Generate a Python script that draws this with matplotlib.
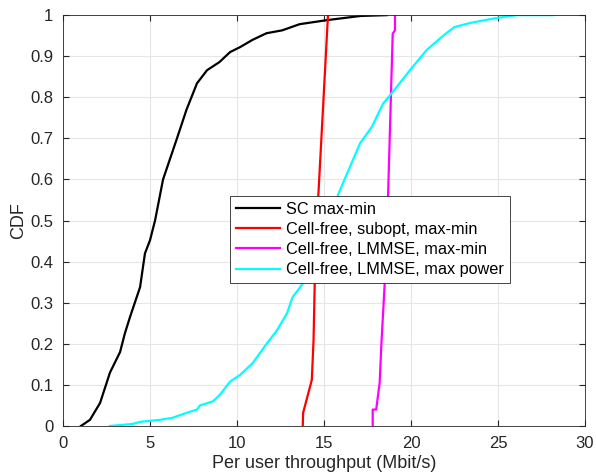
import matplotlib
matplotlib.use("Agg")
import matplotlib.pyplot as plt

plt.rcParams['font.family'] = ['Liberation Sans', 'DejaVu Sans']

# CDF curves (throughput in Mbit/s, cumulative prob.)
sc_x = [1.03, 1.55, 2.13, 2.7, 3.28, 3.56, 3.85, 4.43, 4.71, 5.0, 5.29, 5.75, 6.55,
        7.1, 7.7, 8.28, 9.0, 9.6, 10.17, 10.9, 11.7, 12.6, 13.6, 15.2, 17.1, 18.6]
sc_y = [0.0, 0.015, 0.056, 0.13, 0.18, 0.226, 0.265, 0.338, 0.42, 0.452, 0.5, 0.6, 0.7,
        0.77, 0.834, 0.866, 0.886, 0.91, 0.922, 0.94, 0.956, 0.963, 0.978, 0.988, 0.998, 1.0]

subopt_x = [13.78, 13.8, 14.3, 14.4, 14.48, 14.67, 15.23]
subopt_y = [0.0, 0.032, 0.112, 0.209, 0.372, 0.557, 1.0]

lmmse_x = [17.8, 17.8, 18.0, 18.2, 18.3, 18.5, 18.68, 18.95, 19.08, 19.08]
lmmse_y = [0.0, 0.04, 0.04, 0.105, 0.2, 0.355, 0.557, 0.955, 0.963, 1.0]

maxp_x = [2.7, 4.0, 4.43, 5.57, 6.3, 7.1, 7.7, 7.87, 8.62, 9.0, 9.6, 10.17, 10.9, 11.7,
          12.3, 12.87, 13.2, 13.6, 14.3, 15.0, 15.6, 15.8, 17.07, 17.75, 18.4, 18.8,
          19.94, 20.9, 21.85, 22.5, 23.4, 24.9, 26.1, 28.2]
maxp_y = [0.0, 0.005, 0.01, 0.015, 0.02, 0.032, 0.04, 0.05, 0.06, 0.075, 0.108, 0.124,
          0.153, 0.2, 0.233, 0.274, 0.314, 0.336, 0.38, 0.44, 0.5, 0.562, 0.688, 0.728,
          0.785, 0.805, 0.866, 0.915, 0.95, 0.971, 0.981, 0.993, 1.0, 1.0]

labels = ['SC max-min', 'Cell-free, subopt, max-min',
          'Cell-free, LMMSE, max-min', 'Cell-free, LMMSE, max power']
colors = ['black', 'red', 'magenta', 'cyan']

fig = plt.figure(figsize=(5.96, 4.73), dpi=100)
ax = fig.add_axes([0.1057, 0.0994, 0.8758, 0.8686])

for xs, ys, lab, c in zip([sc_x, subopt_x, lmmse_x, maxp_x],
                          [sc_y, subopt_y, lmmse_y, maxp_y], labels, colors):
    ax.plot(xs, ys, color=c, lw=1.6, label=lab)

ax.set_xlim(0, 30)
ax.set_ylim(0, 1)
ax.set_xticks(range(0, 31, 5))
ax.set_yticks([i / 10 for i in range(11)])
ax.set_yticklabels(['0', '0.1', '0.2', '0.3', '0.4', '0.5', '0.6', '0.7', '0.8', '0.9', '1'])
ax.grid(True, color='#e6e6e6', lw=0.8)
ax.set_axisbelow(True)
ax.tick_params(direction='in', length=4, colors='#262626', labelsize=12,
               top=True, right=True, labelcolor='#262626')
ax.tick_params(axis='x', pad=7)
ax.tick_params(axis='y', pad=7)
for s in ax.spines.values():
    s.set_color('#262626')
    s.set_linewidth(0.6)

ax.set_xlabel('Per user throughput (Mbit/s)', fontsize=13, color='#262626', labelpad=3)
ax.set_ylabel('CDF', fontsize=13, color='#262626', labelpad=2)

leg = ax.legend(loc='upper left', bbox_to_anchor=(0.32, 0.56), fontsize=11.7,
                fancybox=False, framealpha=1, edgecolor='#262626',
                handlelength=2.7, borderpad=0.35, labelspacing=0.32,
                handletextpad=0.4, borderaxespad=0)
leg.get_frame().set_linewidth(0.6)

fig.savefig('out.png', dpi=100)
